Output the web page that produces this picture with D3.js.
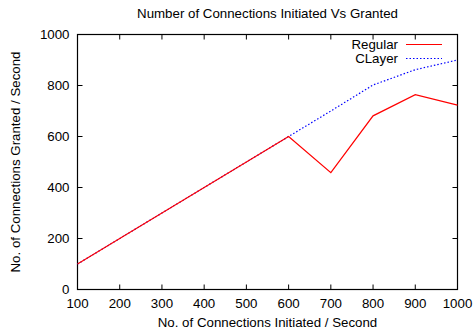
<!DOCTYPE html>
<html><head><meta charset="utf-8">
<script src="https://cdn.jsdelivr.net/npm/d3@7"></script>
<style>body{margin:0;background:#fff}svg text{font-family:"Liberation Sans",Arial,sans-serif;}</style>
</head><body>
<svg id="c" width="474" height="335"></svg>
<script>
const xValues = [100,200,300,400,500,600,700,800,900,1000];
const regular = [100,200,300,400,500,600,458,681,764,723];
const clayer  = [100,200,300,400,500,600,700,802,862,900];
const xTicks = [100,200,300,400,500,600,700,800,900,1000];
const yTicks = [0,200,400,600,800,1000];
const seriesNames = ["Regular","CLayer"];

const svg = d3.select("#c");
const L=77.5,R=457.5,T=34.5,B=289.5;
const x=d3.scaleLinear().domain([100,1000]).range([L,R]);
const y=d3.scaleLinear().domain([0,1000]).range([B,T]);
const fs=13.3;

const tl=5;
const g=svg.append("g").attr("stroke","#000").attr("stroke-width",1);
xTicks.forEach(v=>{
  g.append("line").attr("x1",x(v)).attr("x2",x(v)).attr("y1",B).attr("y2",B-tl);
  g.append("line").attr("x1",x(v)).attr("x2",x(v)).attr("y1",T).attr("y2",T+tl);
});
yTicks.forEach(v=>{
  g.append("line").attr("x1",L).attr("x2",L+tl).attr("y1",y(v)).attr("y2",y(v));
  g.append("line").attr("x1",R).attr("x2",R-tl).attr("y1",y(v)).attr("y2",y(v));
});
svg.append("rect").attr("x",L).attr("y",T).attr("width",R-L).attr("height",B-T)
  .attr("fill","none").attr("stroke","#000").attr("stroke-width",1.2);

svg.selectAll(".xt").data(xTicks).enter().append("text")
  .attr("x",d=>x(d)).attr("y",B+18.5).attr("text-anchor","middle").attr("font-size",fs).text(d=>d);
svg.selectAll(".yt").data(yTicks).enter().append("text")
  .attr("x",L-8).attr("y",d=>y(d)+4.8).attr("text-anchor","end").attr("font-size",fs).text(d=>d);

svg.append("text").attr("x",(L+R)/2).attr("y",18).attr("text-anchor","middle").attr("font-size",fs)
  .text("Number of Connections Initiated Vs Granted");
svg.append("text").attr("x",(L+R)/2).attr("y",327).attr("text-anchor","middle").attr("font-size",fs)
  .text("No. of Connections Initiated / Second");
svg.append("text").attr("transform",`translate(20,${(T+B)/2}) rotate(-90)`).attr("text-anchor","middle").attr("font-size",fs)
  .text("No. of Connections Granted / Second");

const line=d3.line().x((d,i)=>x(xValues[i])).y(d=>y(d));
svg.append("path").datum(clayer).attr("d",line).attr("fill","none").attr("stroke","#0000ff")
  .attr("stroke-width",1.2).attr("stroke-dasharray","1.5,2");
svg.append("path").datum(regular).attr("d",line).attr("fill","none").attr("stroke","#ff0000").attr("stroke-width",1.2);

const lg=[{n:seriesNames[0],c:"#ff0000",d:null,yy:44.5},{n:seriesNames[1],c:"#0000ff",d:"1.5,2",yy:58.5}];
lg.forEach(o=>{
  svg.append("text").attr("x",398).attr("y",o.yy+4.8).attr("text-anchor","end").attr("font-size",fs).text(o.n);
  svg.append("line").attr("x1",406).attr("x2",442).attr("y1",o.yy).attr("y2",o.yy)
    .attr("stroke",o.c).attr("stroke-width",1.2).attr("stroke-dasharray",o.d);
});
</script>
</body></html>
